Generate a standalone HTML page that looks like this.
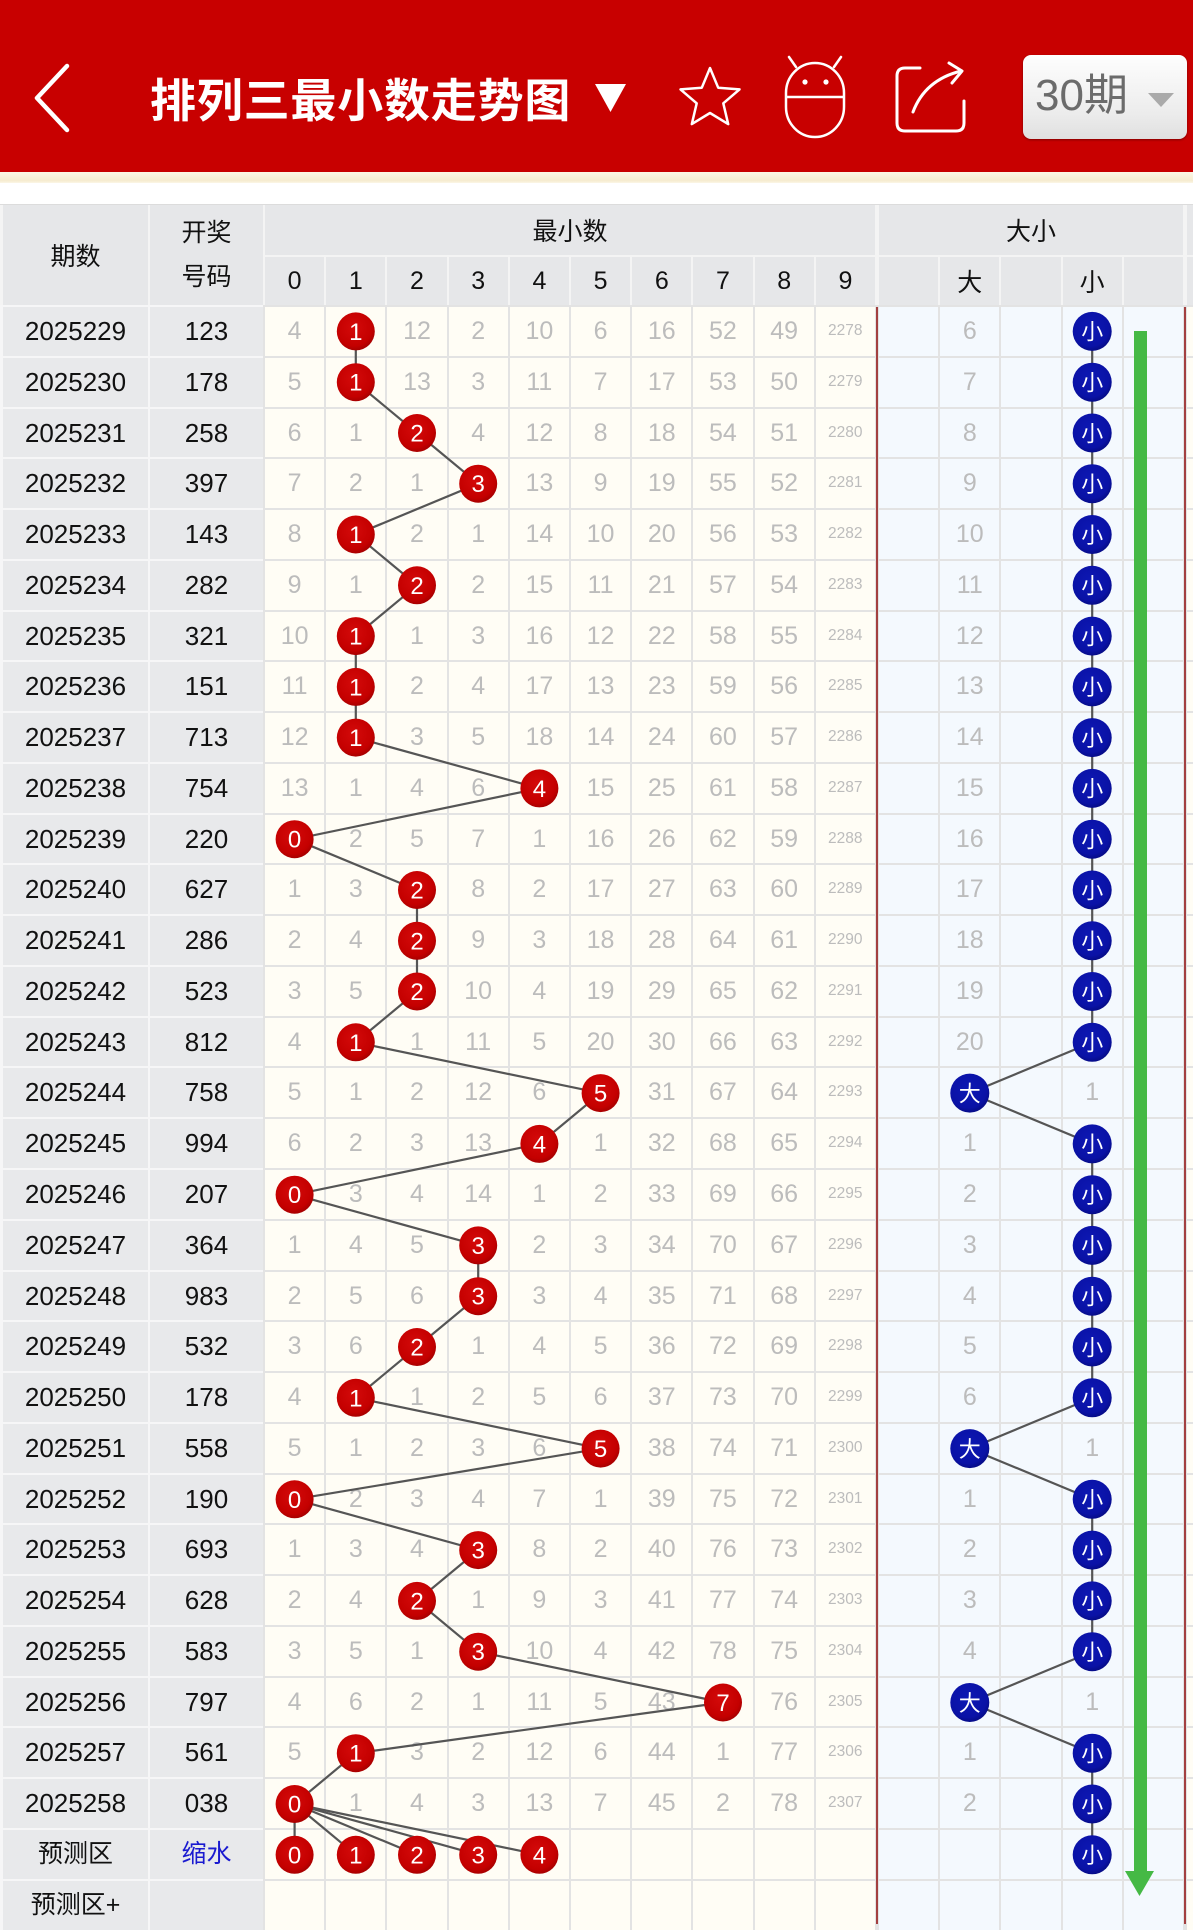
<!DOCTYPE html>
<html><head><meta charset="utf-8">
<style>
*{box-sizing:border-box}
body{margin:0;width:1193px;height:1924px;overflow:hidden;background:#fff;position:relative;font-family:"Liberation Sans","Noto Sans CJK SC",sans-serif}
.top{position:absolute;left:0;top:0;width:1193px;height:172px;background:#c80000}
.cream{position:absolute;left:0;top:172px;width:1193px;height:11px;background:linear-gradient(#fcf7e6,#f6ecd0 80%,#fbf6e8)}
.title{position:absolute;left:150px;top:73px;font-family:"Noto Sans CJK SC","Liberation Sans",sans-serif;font-weight:bold;font-size:46px;line-height:50px;color:#fff;letter-spacing:0.8px;white-space:nowrap}
.btn{position:absolute;left:1023px;top:55px;width:164px;height:84px;border-radius:8px;background:linear-gradient(#fefefe,#ececec 70%,#e0e0e0);box-shadow:0 1px 2px rgba(0,0,0,.35)}
.btn span{position:absolute;left:12px;top:17px;font-size:44px;line-height:48px;color:#6b6b6b;font-family:"Liberation Sans","Noto Sans CJK SC",sans-serif}
.hbg{position:absolute;left:0;top:204px;width:1193px;height:103px;background:#f4f4f4;border-top:1px solid #dcdcdc}
.h{position:absolute;background:#e6e7e9;color:#111;font-size:25px;display:flex;align-items:center;justify-content:center;text-align:center;font-family:"Liberation Sans","Noto Sans CJK SC",sans-serif}
.g{position:absolute;top:305px;display:grid;column-gap:2px;row-gap:2px;padding-top:2px;grid-auto-rows:48.78px}
.g i{font-style:normal;display:block;text-align:center;line-height:48.78px;white-space:nowrap;overflow:hidden}
.L{left:0;width:265px;padding-left:3px;grid-template-columns:145px 113px;background:#f6f6f7}
.L i{background:#e8e9eb;color:#111;font-size:26px}
.N{left:263px;width:614px;padding-left:2px;grid-template-columns:repeat(10,59.2px);background:#e3e3e3}
.N i{background:#fffdf5;color:#bcbcbc;font-size:25px}
.N i:nth-child(10n){font-size:15.5px}
.D{left:877px;width:308px;padding-left:2px;grid-template-columns:repeat(5,59.2px);background:#e3e3e3}
.D i{background:#f4f9fe;color:#bcbcbc;font-size:25px}
.E{left:1185px;width:8px;padding-left:2px;grid-template-columns:40px;background:#e3e3e3}
.E i{background:#fffdf5}
.rl{position:absolute;top:307px;width:2px;height:1617px;background:#a34040}
svg{position:absolute;left:0;top:0}
</style></head><body>
<div class="top"></div>
<div class="cream"></div>
<svg width="1193" height="172" viewBox="0 0 1193 172">
<path d="M67 66 L37 98 L67 130" fill="none" stroke="#fff" stroke-width="4.5" stroke-linecap="round" stroke-linejoin="round"/>
<polygon points="595,84 626,84 610.5,112" fill="#fff"/>
<polygon points="710,68 718.2,87.7 739.5,89.4 723.3,103.3 728.2,124.1 710,113 691.8,124.1 696.7,103.3 680.5,89.4 701.8,87.7" fill="none" stroke="#fff" stroke-width="2.5" stroke-linejoin="round"/>
<rect x="786" y="63" width="58" height="74" rx="29" ry="30" fill="none" stroke="#fff" stroke-width="2.5"/>
<line x1="786" y1="97" x2="844" y2="97" stroke="#fff" stroke-width="2.5"/>
<circle cx="805" cy="82" r="2.6" fill="#fff"/><circle cx="826" cy="82" r="2.6" fill="#fff"/>
<line x1="789" y1="57" x2="796" y2="67" stroke="#fff" stroke-width="2.5" stroke-linecap="round"/>
<line x1="841" y1="57" x2="834" y2="67" stroke="#fff" stroke-width="2.5" stroke-linecap="round"/>
<path d="M920 68 H905 Q897 68 897 76 V123 Q897 131 905 131 H956 Q964 131 964 123 V101" fill="none" stroke="#fff" stroke-width="3" stroke-linecap="round"/>
<path d="M913 112 Q925 80 961 71" fill="none" stroke="#fff" stroke-width="3" stroke-linecap="round"/>
<path d="M949 63 L962 71 L952 83" fill="none" stroke="#fff" stroke-width="3" stroke-linecap="round" stroke-linejoin="round"/>
</svg>
<div class="title">排列三最小数走势图</div>
<div class="btn"><span>30期</span><svg width="164" height="84" style="left:0;top:0"><polygon points="125,38 151,38 138,52" fill="#aaa"/></svg></div>

<div class="hbg"></div>
<div class="h" style="left:3px;top:205px;width:145px;height:100px">期数</div>
<div class="h" style="left:150px;top:205px;width:113px;height:100px;line-height:44px">开奖<br>号码</div>
<div class="h" style="left:265px;top:205px;width:610px;height:50px">最小数</div>
<div class="h" style="left:879px;top:205px;width:304px;height:50px">大小</div>
<div class="h" style="left:1187px;top:205px;width:10px;height:50px"></div>
<div class="h" style="left:265px;top:257px;width:59.2px;height:48px">0</div>
<div class="h" style="left:326.2px;top:257px;width:59.2px;height:48px">1</div>
<div class="h" style="left:387.4px;top:257px;width:59.2px;height:48px">2</div>
<div class="h" style="left:448.6px;top:257px;width:59.2px;height:48px">3</div>
<div class="h" style="left:509.8px;top:257px;width:59.2px;height:48px">4</div>
<div class="h" style="left:571px;top:257px;width:59.2px;height:48px">5</div>
<div class="h" style="left:632.2px;top:257px;width:59.2px;height:48px">6</div>
<div class="h" style="left:693.4px;top:257px;width:59.2px;height:48px">7</div>
<div class="h" style="left:754.6px;top:257px;width:59.2px;height:48px">8</div>
<div class="h" style="left:815.8px;top:257px;width:59.2px;height:48px">9</div>
<div class="h" style="left:879px;top:257px;width:59.2px;height:48px"></div>
<div class="h" style="left:940.2px;top:257px;width:59.2px;height:48px">大</div>
<div class="h" style="left:1001.4px;top:257px;width:59.2px;height:48px"></div>
<div class="h" style="left:1062.6px;top:257px;width:59.2px;height:48px">小</div>
<div class="h" style="left:1123.8px;top:257px;width:59.2px;height:48px"></div>
<div class="h" style="left:1187px;top:257px;width:10px;height:48px"></div>

<div class="g L">
<i>2025229</i><i>123</i>
<i>2025230</i><i>178</i>
<i>2025231</i><i>258</i>
<i>2025232</i><i>397</i>
<i>2025233</i><i>143</i>
<i>2025234</i><i>282</i>
<i>2025235</i><i>321</i>
<i>2025236</i><i>151</i>
<i>2025237</i><i>713</i>
<i>2025238</i><i>754</i>
<i>2025239</i><i>220</i>
<i>2025240</i><i>627</i>
<i>2025241</i><i>286</i>
<i>2025242</i><i>523</i>
<i>2025243</i><i>812</i>
<i>2025244</i><i>758</i>
<i>2025245</i><i>994</i>
<i>2025246</i><i>207</i>
<i>2025247</i><i>364</i>
<i>2025248</i><i>983</i>
<i>2025249</i><i>532</i>
<i>2025250</i><i>178</i>
<i>2025251</i><i>558</i>
<i>2025252</i><i>190</i>
<i>2025253</i><i>693</i>
<i>2025254</i><i>628</i>
<i>2025255</i><i>583</i>
<i>2025256</i><i>797</i>
<i>2025257</i><i>561</i>
<i>2025258</i><i>038</i>
<i style="font-size:25px">预测区</i><i style="font-size:25px;color:#1a1ad0">缩水</i>
<i style="font-size:25px">预测区+</i><i></i>
</div>

<div class="g N">
<i>4</i><i></i><i>12</i><i>2</i><i>10</i><i>6</i><i>16</i><i>52</i><i>49</i><i>2278</i>
<i>5</i><i></i><i>13</i><i>3</i><i>11</i><i>7</i><i>17</i><i>53</i><i>50</i><i>2279</i>
<i>6</i><i>1</i><i></i><i>4</i><i>12</i><i>8</i><i>18</i><i>54</i><i>51</i><i>2280</i>
<i>7</i><i>2</i><i>1</i><i></i><i>13</i><i>9</i><i>19</i><i>55</i><i>52</i><i>2281</i>
<i>8</i><i></i><i>2</i><i>1</i><i>14</i><i>10</i><i>20</i><i>56</i><i>53</i><i>2282</i>
<i>9</i><i>1</i><i></i><i>2</i><i>15</i><i>11</i><i>21</i><i>57</i><i>54</i><i>2283</i>
<i>10</i><i></i><i>1</i><i>3</i><i>16</i><i>12</i><i>22</i><i>58</i><i>55</i><i>2284</i>
<i>11</i><i></i><i>2</i><i>4</i><i>17</i><i>13</i><i>23</i><i>59</i><i>56</i><i>2285</i>
<i>12</i><i></i><i>3</i><i>5</i><i>18</i><i>14</i><i>24</i><i>60</i><i>57</i><i>2286</i>
<i>13</i><i>1</i><i>4</i><i>6</i><i></i><i>15</i><i>25</i><i>61</i><i>58</i><i>2287</i>
<i></i><i>2</i><i>5</i><i>7</i><i>1</i><i>16</i><i>26</i><i>62</i><i>59</i><i>2288</i>
<i>1</i><i>3</i><i></i><i>8</i><i>2</i><i>17</i><i>27</i><i>63</i><i>60</i><i>2289</i>
<i>2</i><i>4</i><i></i><i>9</i><i>3</i><i>18</i><i>28</i><i>64</i><i>61</i><i>2290</i>
<i>3</i><i>5</i><i></i><i>10</i><i>4</i><i>19</i><i>29</i><i>65</i><i>62</i><i>2291</i>
<i>4</i><i></i><i>1</i><i>11</i><i>5</i><i>20</i><i>30</i><i>66</i><i>63</i><i>2292</i>
<i>5</i><i>1</i><i>2</i><i>12</i><i>6</i><i></i><i>31</i><i>67</i><i>64</i><i>2293</i>
<i>6</i><i>2</i><i>3</i><i>13</i><i></i><i>1</i><i>32</i><i>68</i><i>65</i><i>2294</i>
<i></i><i>3</i><i>4</i><i>14</i><i>1</i><i>2</i><i>33</i><i>69</i><i>66</i><i>2295</i>
<i>1</i><i>4</i><i>5</i><i></i><i>2</i><i>3</i><i>34</i><i>70</i><i>67</i><i>2296</i>
<i>2</i><i>5</i><i>6</i><i></i><i>3</i><i>4</i><i>35</i><i>71</i><i>68</i><i>2297</i>
<i>3</i><i>6</i><i></i><i>1</i><i>4</i><i>5</i><i>36</i><i>72</i><i>69</i><i>2298</i>
<i>4</i><i></i><i>1</i><i>2</i><i>5</i><i>6</i><i>37</i><i>73</i><i>70</i><i>2299</i>
<i>5</i><i>1</i><i>2</i><i>3</i><i>6</i><i></i><i>38</i><i>74</i><i>71</i><i>2300</i>
<i></i><i>2</i><i>3</i><i>4</i><i>7</i><i>1</i><i>39</i><i>75</i><i>72</i><i>2301</i>
<i>1</i><i>3</i><i>4</i><i></i><i>8</i><i>2</i><i>40</i><i>76</i><i>73</i><i>2302</i>
<i>2</i><i>4</i><i></i><i>1</i><i>9</i><i>3</i><i>41</i><i>77</i><i>74</i><i>2303</i>
<i>3</i><i>5</i><i>1</i><i></i><i>10</i><i>4</i><i>42</i><i>78</i><i>75</i><i>2304</i>
<i>4</i><i>6</i><i>2</i><i>1</i><i>11</i><i>5</i><i>43</i><i></i><i>76</i><i>2305</i>
<i>5</i><i></i><i>3</i><i>2</i><i>12</i><i>6</i><i>44</i><i>1</i><i>77</i><i>2306</i>
<i></i><i>1</i><i>4</i><i>3</i><i>13</i><i>7</i><i>45</i><i>2</i><i>78</i><i>2307</i>
<i></i><i></i><i></i><i></i><i></i><i></i><i></i><i></i><i></i><i></i>
<i></i><i></i><i></i><i></i><i></i><i></i><i></i><i></i><i></i><i></i>
</div>

<div class="g D">
<i></i><i>6</i><i></i><i></i><i></i>
<i></i><i>7</i><i></i><i></i><i></i>
<i></i><i>8</i><i></i><i></i><i></i>
<i></i><i>9</i><i></i><i></i><i></i>
<i></i><i>10</i><i></i><i></i><i></i>
<i></i><i>11</i><i></i><i></i><i></i>
<i></i><i>12</i><i></i><i></i><i></i>
<i></i><i>13</i><i></i><i></i><i></i>
<i></i><i>14</i><i></i><i></i><i></i>
<i></i><i>15</i><i></i><i></i><i></i>
<i></i><i>16</i><i></i><i></i><i></i>
<i></i><i>17</i><i></i><i></i><i></i>
<i></i><i>18</i><i></i><i></i><i></i>
<i></i><i>19</i><i></i><i></i><i></i>
<i></i><i>20</i><i></i><i></i><i></i>
<i></i><i></i><i></i><i>1</i><i></i>
<i></i><i>1</i><i></i><i></i><i></i>
<i></i><i>2</i><i></i><i></i><i></i>
<i></i><i>3</i><i></i><i></i><i></i>
<i></i><i>4</i><i></i><i></i><i></i>
<i></i><i>5</i><i></i><i></i><i></i>
<i></i><i>6</i><i></i><i></i><i></i>
<i></i><i></i><i></i><i>1</i><i></i>
<i></i><i>1</i><i></i><i></i><i></i>
<i></i><i>2</i><i></i><i></i><i></i>
<i></i><i>3</i><i></i><i></i><i></i>
<i></i><i>4</i><i></i><i></i><i></i>
<i></i><i></i><i></i><i>1</i><i></i>
<i></i><i>1</i><i></i><i></i><i></i>
<i></i><i>2</i><i></i><i></i><i></i>
<i></i><i></i><i></i><i></i><i></i>
<i></i><i></i><i></i><i></i><i></i>
</div>

<div class="g E">
<i></i><i></i><i></i><i></i><i></i><i></i><i></i><i></i><i></i><i></i><i></i><i></i><i></i><i></i><i></i><i></i>
<i></i><i></i><i></i><i></i><i></i><i></i><i></i><i></i><i></i><i></i><i></i><i></i><i></i><i></i><i></i><i></i>
</div>
<div class="rl" style="left:876px"></div>
<div class="rl" style="left:1184px"></div>

<svg width="1193" height="1924" viewBox="0 0 1193 1924">
<defs>
<radialGradient id="rg" cx="45%" cy="40%" r="60%"><stop offset="0" stop-color="#d40a0a"/><stop offset="0.8" stop-color="#c40000"/><stop offset="1" stop-color="#a80000"/></radialGradient>
<radialGradient id="bg" cx="45%" cy="40%" r="60%"><stop offset="0" stop-color="#0d18b4"/><stop offset="0.8" stop-color="#0a12a6"/><stop offset="1" stop-color="#060c88"/></radialGradient>
</defs>
<rect x="1134" y="331" width="13" height="1543" fill="#45b945"/>
<polygon points="1125,1871 1154,1871 1139.5,1896" fill="#45b945"/>
<g fill="none" stroke="#555" stroke-width="2.2">
<polyline points="355.8,331.4 355.8,382.2 417,433 478.2,483.7 355.8,534.5 417,585.3 355.8,636.1 355.8,686.9 355.8,737.6 539.4,788.4 294.6,839.2 417,890 417,940.8 417,991.5 355.8,1042.3 600.6,1093.1 539.4,1143.9 294.6,1194.7 478.2,1245.4 478.2,1296.2 417,1347 355.8,1397.8 600.6,1448.6 294.6,1499.3 478.2,1550.1 417,1600.9 478.2,1651.7 723,1702.5 355.8,1753.2 294.6,1804"/>
<line x1="294.6" y1="1804" x2="294.6" y2="1854.8"/>
<line x1="294.6" y1="1804" x2="355.8" y2="1854.8"/>
<line x1="294.6" y1="1804" x2="417" y2="1854.8"/>
<line x1="294.6" y1="1804" x2="478.2" y2="1854.8"/>
<line x1="294.6" y1="1804" x2="539.4" y2="1854.8"/>
<polyline points="1092.2,331.4 1092.2,1042.3 969.8,1093.1 1092.2,1143.9 1092.2,1397.8 969.8,1448.6 1092.2,1499.3 1092.2,1651.7 969.8,1702.5 1092.2,1753.2 1092.2,1854.8"/>
</g>
<g fill="url(#rg)">
<circle cx="355.8" cy="331.4" r="19"/><circle cx="355.8" cy="382.2" r="19"/><circle cx="417" cy="433" r="19"/><circle cx="478.2" cy="483.7" r="19"/><circle cx="355.8" cy="534.5" r="19"/><circle cx="417" cy="585.3" r="19"/><circle cx="355.8" cy="636.1" r="19"/><circle cx="355.8" cy="686.9" r="19"/><circle cx="355.8" cy="737.6" r="19"/><circle cx="539.4" cy="788.4" r="19"/><circle cx="294.6" cy="839.2" r="19"/><circle cx="417" cy="890" r="19"/><circle cx="417" cy="940.8" r="19"/><circle cx="417" cy="991.5" r="19"/><circle cx="355.8" cy="1042.3" r="19"/><circle cx="600.6" cy="1093.1" r="19"/><circle cx="539.4" cy="1143.9" r="19"/><circle cx="294.6" cy="1194.7" r="19"/><circle cx="478.2" cy="1245.4" r="19"/><circle cx="478.2" cy="1296.2" r="19"/><circle cx="417" cy="1347" r="19"/><circle cx="355.8" cy="1397.8" r="19"/><circle cx="600.6" cy="1448.6" r="19"/><circle cx="294.6" cy="1499.3" r="19"/><circle cx="478.2" cy="1550.1" r="19"/><circle cx="417" cy="1600.9" r="19"/><circle cx="478.2" cy="1651.7" r="19"/><circle cx="723" cy="1702.5" r="19"/><circle cx="355.8" cy="1753.2" r="19"/><circle cx="294.6" cy="1804" r="19"/>
<circle cx="294.6" cy="1854.8" r="19"/><circle cx="355.8" cy="1854.8" r="19"/><circle cx="417" cy="1854.8" r="19"/><circle cx="478.2" cy="1854.8" r="19"/><circle cx="539.4" cy="1854.8" r="19"/>
</g>
<g fill="#fff" font-family="Liberation Sans, sans-serif" font-size="24" text-anchor="middle">
<text x="355.8" y="339.9">1</text><text x="355.8" y="390.7">1</text><text x="417" y="441.5">2</text><text x="478.2" y="492.2">3</text><text x="355.8" y="543">1</text><text x="417" y="593.8">2</text><text x="355.8" y="644.6">1</text><text x="355.8" y="695.4">1</text><text x="355.8" y="746.1">1</text><text x="539.4" y="796.9">4</text><text x="294.6" y="847.7">0</text><text x="417" y="898.5">2</text><text x="417" y="949.3">2</text><text x="417" y="1000">2</text><text x="355.8" y="1050.8">1</text><text x="600.6" y="1101.6">5</text><text x="539.4" y="1152.4">4</text><text x="294.6" y="1203.2">0</text><text x="478.2" y="1253.9">3</text><text x="478.2" y="1304.7">3</text><text x="417" y="1355.5">2</text><text x="355.8" y="1406.3">1</text><text x="600.6" y="1457.1">5</text><text x="294.6" y="1507.8">0</text><text x="478.2" y="1558.6">3</text><text x="417" y="1609.4">2</text><text x="478.2" y="1660.2">3</text><text x="723" y="1711">7</text><text x="355.8" y="1761.7">1</text><text x="294.6" y="1812.5">0</text>
<text x="294.6" y="1863.3">0</text><text x="355.8" y="1863.3">1</text><text x="417" y="1863.3">2</text><text x="478.2" y="1863.3">3</text><text x="539.4" y="1863.3">4</text>
</g>
<g fill="url(#bg)">
<circle cx="1092.2" cy="331.4" r="19.5"/><circle cx="1092.2" cy="382.2" r="19.5"/><circle cx="1092.2" cy="433" r="19.5"/><circle cx="1092.2" cy="483.7" r="19.5"/><circle cx="1092.2" cy="534.5" r="19.5"/><circle cx="1092.2" cy="585.3" r="19.5"/><circle cx="1092.2" cy="636.1" r="19.5"/><circle cx="1092.2" cy="686.9" r="19.5"/><circle cx="1092.2" cy="737.6" r="19.5"/><circle cx="1092.2" cy="788.4" r="19.5"/><circle cx="1092.2" cy="839.2" r="19.5"/><circle cx="1092.2" cy="890" r="19.5"/><circle cx="1092.2" cy="940.8" r="19.5"/><circle cx="1092.2" cy="991.5" r="19.5"/><circle cx="1092.2" cy="1042.3" r="19.5"/>
<circle cx="969.8" cy="1093.1" r="19.5"/>
<circle cx="1092.2" cy="1143.9" r="19.5"/><circle cx="1092.2" cy="1194.7" r="19.5"/><circle cx="1092.2" cy="1245.4" r="19.5"/><circle cx="1092.2" cy="1296.2" r="19.5"/><circle cx="1092.2" cy="1347" r="19.5"/><circle cx="1092.2" cy="1397.8" r="19.5"/>
<circle cx="969.8" cy="1448.6" r="19.5"/>
<circle cx="1092.2" cy="1499.3" r="19.5"/><circle cx="1092.2" cy="1550.1" r="19.5"/><circle cx="1092.2" cy="1600.9" r="19.5"/><circle cx="1092.2" cy="1651.7" r="19.5"/>
<circle cx="969.8" cy="1702.5" r="19.5"/>
<circle cx="1092.2" cy="1753.2" r="19.5"/><circle cx="1092.2" cy="1804" r="19.5"/><circle cx="1092.2" cy="1854.8" r="19.5"/>
</g>
<g fill="#fff" font-family="Noto Sans CJK SC, sans-serif" font-size="22" text-anchor="middle">
<text x="1092.2" y="339.7">小</text><text x="1092.2" y="390.5">小</text><text x="1092.2" y="441.3">小</text><text x="1092.2" y="492">小</text><text x="1092.2" y="542.8">小</text><text x="1092.2" y="593.6">小</text><text x="1092.2" y="644.4">小</text><text x="1092.2" y="695.2">小</text><text x="1092.2" y="745.9">小</text><text x="1092.2" y="796.7">小</text><text x="1092.2" y="847.5">小</text><text x="1092.2" y="898.3">小</text><text x="1092.2" y="949.1">小</text><text x="1092.2" y="999.8">小</text><text x="1092.2" y="1050.6">小</text>
<text x="969.8" y="1101.4">大</text>
<text x="1092.2" y="1152.2">小</text><text x="1092.2" y="1203">小</text><text x="1092.2" y="1253.7">小</text><text x="1092.2" y="1304.5">小</text><text x="1092.2" y="1355.3">小</text><text x="1092.2" y="1406.1">小</text>
<text x="969.8" y="1456.9">大</text>
<text x="1092.2" y="1507.6">小</text><text x="1092.2" y="1558.4">小</text><text x="1092.2" y="1609.2">小</text><text x="1092.2" y="1660">小</text>
<text x="969.8" y="1710.8">大</text>
<text x="1092.2" y="1761.5">小</text><text x="1092.2" y="1812.3">小</text><text x="1092.2" y="1863.1">小</text>
</g>
</svg>
</body></html>
